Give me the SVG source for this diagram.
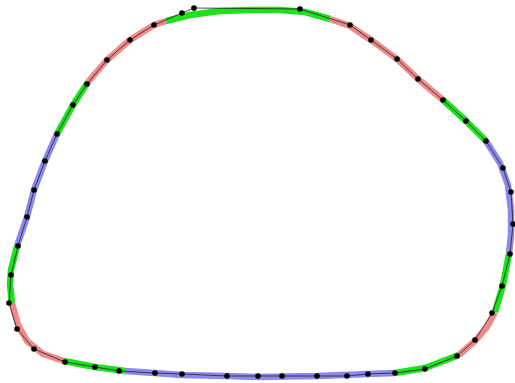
<svg xmlns="http://www.w3.org/2000/svg" width="515" height="383" viewBox="0 0 515 383">
<style>
.band{fill:none;stroke-width:6.5;stroke-linejoin:round;stroke-linecap:butt}
.g{stroke:#1ee01e}
.r{stroke:#f08a8a}
.b{stroke:#8a8aee}
.poly{fill:none;stroke:#222;stroke-width:0.8;stroke-linejoin:round}
.dot{fill:#000}
</style>
<rect width="515" height="383" fill="#fff"/>
<g id="bands">
<polyline class="band g" points="166,21 190,15 220,11 250,10 280,10 305,12 330,19"/>
<polyline class="band r" points="330,19 350,26 371,40 397,59 418,79 443,100"/>
<polyline class="band g" points="443,100 466,121 486,141"/>
<polyline class="band b" points="486,141 500,163 508,185 511,210 511,235 509,254"/>
<polyline class="band g" points="509,254 503,285 495,312"/>
<polyline class="band r" points="495,312 487,327 475,341 459,355"/>
<polyline class="band g" points="459,355 425,368 395,373"/>
<polyline class="band b" points="395,373 368,374 317,376 258,377 227,376 182,375 155,373 125,371"/>
<polyline class="band g" points="125,371 95,367 64,361"/>
<polyline class="band r" points="64,361 43,354 27,341 18,325 12,303"/>
<polyline class="band g" points="12,303 10,285 11,270 17,246"/>
<polyline class="band b" points="17,246 27,217 34,190 45,161 57,134"/>
<polyline class="band g" points="57,134 73,105 88,82"/>
<polyline class="band r" points="88,82 107,60 130,40 154,25 166,21"/>
</g>
<g id="connectors">
<polygon class="poly" points="194,8 300,9 350,25 371,40 397,59 418,79 443,100 466,121 486,141 503,168 511,192 513,224 510,254 502,286 492,313 475,340 457,356 425,369 395,373 368,374 347,376 317,376 282,376 258,376 227,376 182,374 155,373 119,371 95,367 65,362 34,349 17,329 9,303 11,275 18,246 27,217 34,190 45,161 57,134 73,105 87,84 107,60 130,40 154,25 182,13"/>
</g>
<g id="dots">
<circle class="dot" cx="194" cy="8" r="2.8"/><circle class="dot" cx="300" cy="9" r="2.8"/><circle class="dot" cx="350" cy="25" r="2.8"/><circle class="dot" cx="371" cy="40" r="2.8"/><circle class="dot" cx="397" cy="59" r="2.8"/><circle class="dot" cx="418" cy="79" r="2.8"/><circle class="dot" cx="443" cy="100" r="2.8"/><circle class="dot" cx="466" cy="121" r="2.8"/><circle class="dot" cx="486" cy="141" r="2.8"/><circle class="dot" cx="503" cy="168" r="2.8"/><circle class="dot" cx="511" cy="192" r="2.8"/><circle class="dot" cx="513" cy="224" r="2.8"/><circle class="dot" cx="510" cy="254" r="2.8"/><circle class="dot" cx="502" cy="286" r="2.8"/><circle class="dot" cx="492" cy="313" r="2.8"/><circle class="dot" cx="475" cy="340" r="2.8"/><circle class="dot" cx="457" cy="356" r="2.8"/><circle class="dot" cx="425" cy="369" r="2.8"/><circle class="dot" cx="395" cy="373" r="2.8"/><circle class="dot" cx="368" cy="374" r="2.8"/><circle class="dot" cx="347" cy="376" r="2.8"/><circle class="dot" cx="317" cy="376" r="2.8"/><circle class="dot" cx="282" cy="376" r="2.8"/><circle class="dot" cx="258" cy="376" r="2.8"/><circle class="dot" cx="227" cy="376" r="2.8"/><circle class="dot" cx="182" cy="374" r="2.8"/><circle class="dot" cx="155" cy="373" r="2.8"/><circle class="dot" cx="119" cy="371" r="2.8"/><circle class="dot" cx="95" cy="367" r="2.8"/><circle class="dot" cx="65" cy="362" r="2.8"/><circle class="dot" cx="34" cy="349" r="2.8"/><circle class="dot" cx="17" cy="329" r="2.8"/><circle class="dot" cx="9" cy="303" r="2.8"/><circle class="dot" cx="11" cy="275" r="2.8"/><circle class="dot" cx="18" cy="246" r="2.8"/><circle class="dot" cx="27" cy="217" r="2.8"/><circle class="dot" cx="34" cy="190" r="2.8"/><circle class="dot" cx="45" cy="161" r="2.8"/><circle class="dot" cx="57" cy="134" r="2.8"/><circle class="dot" cx="73" cy="105" r="2.8"/><circle class="dot" cx="87" cy="84" r="2.8"/><circle class="dot" cx="107" cy="60" r="2.8"/><circle class="dot" cx="130" cy="40" r="2.8"/><circle class="dot" cx="154" cy="25" r="2.8"/><circle class="dot" cx="182" cy="13" r="2.8"/>
</g>
</svg>
